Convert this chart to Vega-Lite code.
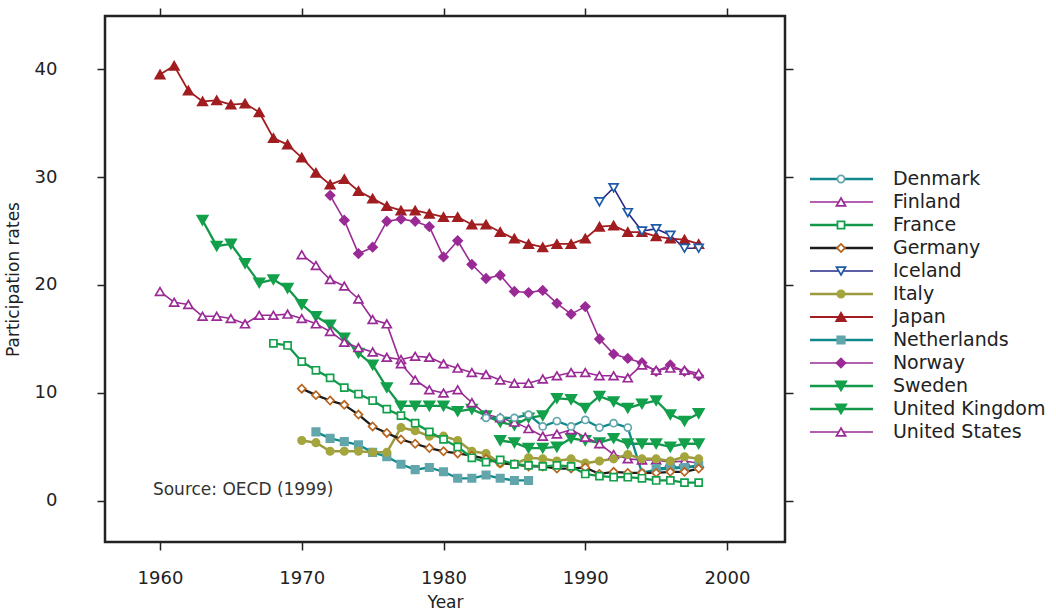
{
  "$schema": "https://vega.github.io/schema/vega-lite/v6.json",
  "background": "white",
  "padding": {"left": 2, "top": 6, "right": 0, "bottom": 0},
  "spacing": 13,
  "config": {"font": "DejaVu Sans", "axis": {"labelColor": "#222", "titleColor": "#222", "tickColor": "#222", "grid": false}},
  "datasets": {
    "rates": [
      {"country": "Japan", "year": 1960, "rate": 39.5}, {"country": "Japan", "year": 1961, "rate": 40.3}, {"country": "Japan", "year": 1962, "rate": 38.0}, {"country": "Japan", "year": 1963, "rate": 37.0}, {"country": "Japan", "year": 1964, "rate": 37.1}, {"country": "Japan", "year": 1965, "rate": 36.7}, {"country": "Japan", "year": 1966, "rate": 36.8}, {"country": "Japan", "year": 1967, "rate": 36.0}, {"country": "Japan", "year": 1968, "rate": 33.6}, {"country": "Japan", "year": 1969, "rate": 33.0}, {"country": "Japan", "year": 1970, "rate": 31.8}, {"country": "Japan", "year": 1971, "rate": 30.4}, {"country": "Japan", "year": 1972, "rate": 29.3}, {"country": "Japan", "year": 1973, "rate": 29.8}, {"country": "Japan", "year": 1974, "rate": 28.7}, {"country": "Japan", "year": 1975, "rate": 28.0}, {"country": "Japan", "year": 1976, "rate": 27.3}, {"country": "Japan", "year": 1977, "rate": 26.9}, {"country": "Japan", "year": 1978, "rate": 26.9}, {"country": "Japan", "year": 1979, "rate": 26.6}, {"country": "Japan", "year": 1980, "rate": 26.3}, {"country": "Japan", "year": 1981, "rate": 26.3}, {"country": "Japan", "year": 1982, "rate": 25.6}, {"country": "Japan", "year": 1983, "rate": 25.6}, {"country": "Japan", "year": 1984, "rate": 24.9}, {"country": "Japan", "year": 1985, "rate": 24.3}, {"country": "Japan", "year": 1986, "rate": 23.8}, {"country": "Japan", "year": 1987, "rate": 23.5}, {"country": "Japan", "year": 1988, "rate": 23.8}, {"country": "Japan", "year": 1989, "rate": 23.8}, {"country": "Japan", "year": 1990, "rate": 24.3}, {"country": "Japan", "year": 1991, "rate": 25.4}, {"country": "Japan", "year": 1992, "rate": 25.5}, {"country": "Japan", "year": 1993, "rate": 24.9}, {"country": "Japan", "year": 1994, "rate": 24.9}, {"country": "Japan", "year": 1995, "rate": 24.5}, {"country": "Japan", "year": 1996, "rate": 24.3}, {"country": "Japan", "year": 1997, "rate": 24.2}, {"country": "Japan", "year": 1998, "rate": 23.8},
      {"country": "Iceland", "year": 1991, "rate": 27.7}, {"country": "Iceland", "year": 1992, "rate": 29.0}, {"country": "Iceland", "year": 1993, "rate": 26.7}, {"country": "Iceland", "year": 1994, "rate": 25.0}, {"country": "Iceland", "year": 1995, "rate": 25.2}, {"country": "Iceland", "year": 1996, "rate": 24.6}, {"country": "Iceland", "year": 1997, "rate": 23.4}, {"country": "Iceland", "year": 1998, "rate": 23.4},
      {"country": "Norway", "year": 1972, "rate": 28.3}, {"country": "Norway", "year": 1973, "rate": 26.0}, {"country": "Norway", "year": 1974, "rate": 22.9}, {"country": "Norway", "year": 1975, "rate": 23.5}, {"country": "Norway", "year": 1976, "rate": 25.9}, {"country": "Norway", "year": 1977, "rate": 26.1}, {"country": "Norway", "year": 1978, "rate": 25.9}, {"country": "Norway", "year": 1979, "rate": 25.4}, {"country": "Norway", "year": 1980, "rate": 22.6}, {"country": "Norway", "year": 1981, "rate": 24.1}, {"country": "Norway", "year": 1982, "rate": 21.9}, {"country": "Norway", "year": 1983, "rate": 20.6}, {"country": "Norway", "year": 1984, "rate": 20.9}, {"country": "Norway", "year": 1985, "rate": 19.4}, {"country": "Norway", "year": 1986, "rate": 19.3}, {"country": "Norway", "year": 1987, "rate": 19.5}, {"country": "Norway", "year": 1988, "rate": 18.3}, {"country": "Norway", "year": 1989, "rate": 17.3}, {"country": "Norway", "year": 1990, "rate": 18.0}, {"country": "Norway", "year": 1991, "rate": 15.0}, {"country": "Norway", "year": 1992, "rate": 13.6}, {"country": "Norway", "year": 1993, "rate": 13.2}, {"country": "Norway", "year": 1994, "rate": 12.8}, {"country": "Norway", "year": 1995, "rate": 12.0}, {"country": "Norway", "year": 1996, "rate": 12.6}, {"country": "Norway", "year": 1997, "rate": 12.0}, {"country": "Norway", "year": 1998, "rate": 11.6},
      {"country": "Sweden", "year": 1963, "rate": 26.0}, {"country": "Sweden", "year": 1964, "rate": 23.6}, {"country": "Sweden", "year": 1965, "rate": 23.8}, {"country": "Sweden", "year": 1966, "rate": 22.0}, {"country": "Sweden", "year": 1967, "rate": 20.2}, {"country": "Sweden", "year": 1968, "rate": 20.5}, {"country": "Sweden", "year": 1969, "rate": 19.7}, {"country": "Sweden", "year": 1970, "rate": 18.2}, {"country": "Sweden", "year": 1971, "rate": 17.1}, {"country": "Sweden", "year": 1972, "rate": 16.3}, {"country": "Sweden", "year": 1973, "rate": 15.1}, {"country": "Sweden", "year": 1974, "rate": 13.7}, {"country": "Sweden", "year": 1975, "rate": 12.6}, {"country": "Sweden", "year": 1976, "rate": 10.5}, {"country": "Sweden", "year": 1977, "rate": 8.8}, {"country": "Sweden", "year": 1978, "rate": 8.8}, {"country": "Sweden", "year": 1979, "rate": 8.8}, {"country": "Sweden", "year": 1980, "rate": 8.8}, {"country": "Sweden", "year": 1981, "rate": 8.3}, {"country": "Sweden", "year": 1982, "rate": 8.5}, {"country": "Sweden", "year": 1983, "rate": 7.9}, {"country": "Sweden", "year": 1984, "rate": 7.3}, {"country": "Sweden", "year": 1985, "rate": 7.0}, {"country": "Sweden", "year": 1986, "rate": 7.7}, {"country": "Sweden", "year": 1987, "rate": 7.9}, {"country": "Sweden", "year": 1988, "rate": 9.5}, {"country": "Sweden", "year": 1989, "rate": 9.4}, {"country": "Sweden", "year": 1990, "rate": 8.6}, {"country": "Sweden", "year": 1991, "rate": 9.7}, {"country": "Sweden", "year": 1992, "rate": 9.2}, {"country": "Sweden", "year": 1993, "rate": 8.6}, {"country": "Sweden", "year": 1994, "rate": 9.0}, {"country": "Sweden", "year": 1995, "rate": 9.3}, {"country": "Sweden", "year": 1996, "rate": 8.0}, {"country": "Sweden", "year": 1997, "rate": 7.4}, {"country": "Sweden", "year": 1998, "rate": 8.1},
      {"country": "United Kingdom", "year": 1984, "rate": 5.6}, {"country": "United Kingdom", "year": 1985, "rate": 5.4}, {"country": "United Kingdom", "year": 1986, "rate": 4.9}, {"country": "United Kingdom", "year": 1987, "rate": 4.9}, {"country": "United Kingdom", "year": 1988, "rate": 5.0}, {"country": "United Kingdom", "year": 1989, "rate": 5.8}, {"country": "United Kingdom", "year": 1990, "rate": 5.6}, {"country": "United Kingdom", "year": 1991, "rate": 5.4}, {"country": "United Kingdom", "year": 1992, "rate": 5.8}, {"country": "United Kingdom", "year": 1993, "rate": 5.3}, {"country": "United Kingdom", "year": 1994, "rate": 5.3}, {"country": "United Kingdom", "year": 1995, "rate": 5.3}, {"country": "United Kingdom", "year": 1996, "rate": 5.0}, {"country": "United Kingdom", "year": 1997, "rate": 5.3}, {"country": "United Kingdom", "year": 1998, "rate": 5.3},
      {"country": "United States", "year": 1960, "rate": 19.4}, {"country": "United States", "year": 1961, "rate": 18.4}, {"country": "United States", "year": 1962, "rate": 18.2}, {"country": "United States", "year": 1963, "rate": 17.1}, {"country": "United States", "year": 1964, "rate": 17.1}, {"country": "United States", "year": 1965, "rate": 16.9}, {"country": "United States", "year": 1966, "rate": 16.4}, {"country": "United States", "year": 1967, "rate": 17.2}, {"country": "United States", "year": 1968, "rate": 17.2}, {"country": "United States", "year": 1969, "rate": 17.3}, {"country": "United States", "year": 1970, "rate": 16.9}, {"country": "United States", "year": 1971, "rate": 16.4}, {"country": "United States", "year": 1972, "rate": 15.7}, {"country": "United States", "year": 1973, "rate": 14.7}, {"country": "United States", "year": 1974, "rate": 14.2}, {"country": "United States", "year": 1975, "rate": 13.8}, {"country": "United States", "year": 1976, "rate": 13.3}, {"country": "United States", "year": 1977, "rate": 13.1}, {"country": "United States", "year": 1978, "rate": 13.4}, {"country": "United States", "year": 1979, "rate": 13.3}, {"country": "United States", "year": 1980, "rate": 12.7}, {"country": "United States", "year": 1981, "rate": 12.3}, {"country": "United States", "year": 1982, "rate": 11.9}, {"country": "United States", "year": 1983, "rate": 11.7}, {"country": "United States", "year": 1984, "rate": 11.2}, {"country": "United States", "year": 1985, "rate": 10.9}, {"country": "United States", "year": 1986, "rate": 10.9}, {"country": "United States", "year": 1987, "rate": 11.3}, {"country": "United States", "year": 1988, "rate": 11.6}, {"country": "United States", "year": 1989, "rate": 11.9}, {"country": "United States", "year": 1990, "rate": 11.9}, {"country": "United States", "year": 1991, "rate": 11.6}, {"country": "United States", "year": 1992, "rate": 11.6}, {"country": "United States", "year": 1993, "rate": 11.4}, {"country": "United States", "year": 1994, "rate": 12.6}, {"country": "United States", "year": 1995, "rate": 12.1}, {"country": "United States", "year": 1996, "rate": 12.3}, {"country": "United States", "year": 1997, "rate": 12.1}, {"country": "United States", "year": 1998, "rate": 11.8},
      {"country": "Finland", "year": 1970, "rate": 22.8}, {"country": "Finland", "year": 1971, "rate": 21.8}, {"country": "Finland", "year": 1972, "rate": 20.5}, {"country": "Finland", "year": 1973, "rate": 19.9}, {"country": "Finland", "year": 1974, "rate": 18.7}, {"country": "Finland", "year": 1975, "rate": 16.8}, {"country": "Finland", "year": 1976, "rate": 16.4}, {"country": "Finland", "year": 1977, "rate": 12.7}, {"country": "Finland", "year": 1978, "rate": 11.2}, {"country": "Finland", "year": 1979, "rate": 10.3}, {"country": "Finland", "year": 1980, "rate": 10.0}, {"country": "Finland", "year": 1981, "rate": 10.3}, {"country": "Finland", "year": 1982, "rate": 9.1}, {"country": "Finland", "year": 1983, "rate": 8.0}, {"country": "Finland", "year": 1984, "rate": 7.7}, {"country": "Finland", "year": 1985, "rate": 7.3}, {"country": "Finland", "year": 1986, "rate": 6.7}, {"country": "Finland", "year": 1987, "rate": 6.0}, {"country": "Finland", "year": 1988, "rate": 6.2}, {"country": "Finland", "year": 1989, "rate": 6.6}, {"country": "Finland", "year": 1990, "rate": 5.9}, {"country": "Finland", "year": 1991, "rate": 5.3}, {"country": "Finland", "year": 1992, "rate": 4.3}, {"country": "Finland", "year": 1993, "rate": 3.9}, {"country": "Finland", "year": 1994, "rate": 3.8}, {"country": "Finland", "year": 1995, "rate": 3.8}, {"country": "Finland", "year": 1996, "rate": 3.6}, {"country": "Finland", "year": 1997, "rate": 3.7}, {"country": "Finland", "year": 1998, "rate": 3.5},
      {"country": "Denmark", "year": 1983, "rate": 7.7}, {"country": "Denmark", "year": 1984, "rate": 7.7}, {"country": "Denmark", "year": 1985, "rate": 7.7}, {"country": "Denmark", "year": 1986, "rate": 8.0}, {"country": "Denmark", "year": 1987, "rate": 6.9}, {"country": "Denmark", "year": 1988, "rate": 7.4}, {"country": "Denmark", "year": 1989, "rate": 6.9}, {"country": "Denmark", "year": 1990, "rate": 7.5}, {"country": "Denmark", "year": 1991, "rate": 6.8}, {"country": "Denmark", "year": 1992, "rate": 7.2}, {"country": "Denmark", "year": 1993, "rate": 6.8}, {"country": "Denmark", "year": 1994, "rate": 2.6}, {"country": "Denmark", "year": 1995, "rate": 2.9}, {"country": "Denmark", "year": 1996, "rate": 3.0}, {"country": "Denmark", "year": 1997, "rate": 3.1}, {"country": "Denmark", "year": 1998, "rate": 3.2},
      {"country": "Netherlands", "year": 1971, "rate": 6.4}, {"country": "Netherlands", "year": 1972, "rate": 5.8}, {"country": "Netherlands", "year": 1973, "rate": 5.5}, {"country": "Netherlands", "year": 1974, "rate": 5.2}, {"country": "Netherlands", "year": 1975, "rate": 4.5}, {"country": "Netherlands", "year": 1976, "rate": 4.1}, {"country": "Netherlands", "year": 1977, "rate": 3.4}, {"country": "Netherlands", "year": 1978, "rate": 2.9}, {"country": "Netherlands", "year": 1979, "rate": 3.1}, {"country": "Netherlands", "year": 1980, "rate": 2.7}, {"country": "Netherlands", "year": 1981, "rate": 2.1}, {"country": "Netherlands", "year": 1982, "rate": 2.1}, {"country": "Netherlands", "year": 1983, "rate": 2.4}, {"country": "Netherlands", "year": 1984, "rate": 2.1}, {"country": "Netherlands", "year": 1985, "rate": 1.9}, {"country": "Netherlands", "year": 1986, "rate": 1.9}, {"country": "Netherlands", "year": 1990, "rate": null}, {"country": "Netherlands", "year": 1995, "rate": 3.0}, {"country": "Netherlands", "year": 1996, "rate": 3.1}, {"country": "Netherlands", "year": 1997, "rate": 3.1}, {"country": "Netherlands", "year": 1998, "rate": 3.3},
      {"country": "Italy", "year": 1970, "rate": 5.6}, {"country": "Italy", "year": 1971, "rate": 5.4}, {"country": "Italy", "year": 1972, "rate": 4.6}, {"country": "Italy", "year": 1973, "rate": 4.6}, {"country": "Italy", "year": 1974, "rate": 4.6}, {"country": "Italy", "year": 1975, "rate": 4.5}, {"country": "Italy", "year": 1976, "rate": 4.5}, {"country": "Italy", "year": 1977, "rate": 6.8}, {"country": "Italy", "year": 1978, "rate": 6.5}, {"country": "Italy", "year": 1979, "rate": 6.0}, {"country": "Italy", "year": 1980, "rate": 6.0}, {"country": "Italy", "year": 1981, "rate": 5.6}, {"country": "Italy", "year": 1982, "rate": 4.6}, {"country": "Italy", "year": 1983, "rate": 4.4}, {"country": "Italy", "year": 1984, "rate": 3.5}, {"country": "Italy", "year": 1985, "rate": 3.4}, {"country": "Italy", "year": 1986, "rate": 4.0}, {"country": "Italy", "year": 1987, "rate": 3.9}, {"country": "Italy", "year": 1988, "rate": 3.7}, {"country": "Italy", "year": 1989, "rate": 3.9}, {"country": "Italy", "year": 1990, "rate": 3.5}, {"country": "Italy", "year": 1991, "rate": 3.7}, {"country": "Italy", "year": 1992, "rate": 3.9}, {"country": "Italy", "year": 1993, "rate": 4.3}, {"country": "Italy", "year": 1994, "rate": 3.9}, {"country": "Italy", "year": 1995, "rate": 3.9}, {"country": "Italy", "year": 1996, "rate": 3.7}, {"country": "Italy", "year": 1997, "rate": 4.1}, {"country": "Italy", "year": 1998, "rate": 3.9},
      {"country": "Germany", "year": 1970, "rate": 10.4}, {"country": "Germany", "year": 1971, "rate": 9.8}, {"country": "Germany", "year": 1972, "rate": 9.3}, {"country": "Germany", "year": 1973, "rate": 8.9}, {"country": "Germany", "year": 1974, "rate": 8.0}, {"country": "Germany", "year": 1975, "rate": 6.9}, {"country": "Germany", "year": 1976, "rate": 6.3}, {"country": "Germany", "year": 1977, "rate": 5.7}, {"country": "Germany", "year": 1978, "rate": 5.3}, {"country": "Germany", "year": 1979, "rate": 4.9}, {"country": "Germany", "year": 1980, "rate": 4.6}, {"country": "Germany", "year": 1981, "rate": 4.4}, {"country": "Germany", "year": 1982, "rate": 4.2}, {"country": "Germany", "year": 1983, "rate": 3.9}, {"country": "Germany", "year": 1984, "rate": 3.5}, {"country": "Germany", "year": 1985, "rate": 3.4}, {"country": "Germany", "year": 1986, "rate": 3.2}, {"country": "Germany", "year": 1987, "rate": 3.2}, {"country": "Germany", "year": 1988, "rate": 3.0}, {"country": "Germany", "year": 1989, "rate": 3.0}, {"country": "Germany", "year": 1990, "rate": 3.1}, {"country": "Germany", "year": 1991, "rate": 2.5}, {"country": "Germany", "year": 1992, "rate": 2.7}, {"country": "Germany", "year": 1993, "rate": 2.6}, {"country": "Germany", "year": 1994, "rate": 2.6}, {"country": "Germany", "year": 1995, "rate": 2.6}, {"country": "Germany", "year": 1996, "rate": 2.7}, {"country": "Germany", "year": 1997, "rate": 2.7}, {"country": "Germany", "year": 1998, "rate": 3.0},
      {"country": "France", "year": 1968, "rate": 14.6}, {"country": "France", "year": 1969, "rate": 14.4}, {"country": "France", "year": 1970, "rate": 12.9}, {"country": "France", "year": 1971, "rate": 12.1}, {"country": "France", "year": 1972, "rate": 11.4}, {"country": "France", "year": 1973, "rate": 10.5}, {"country": "France", "year": 1974, "rate": 9.9}, {"country": "France", "year": 1975, "rate": 9.3}, {"country": "France", "year": 1976, "rate": 8.5}, {"country": "France", "year": 1977, "rate": 7.9}, {"country": "France", "year": 1978, "rate": 7.2}, {"country": "France", "year": 1979, "rate": 6.4}, {"country": "France", "year": 1980, "rate": 5.7}, {"country": "France", "year": 1981, "rate": 5.0}, {"country": "France", "year": 1982, "rate": 4.0}, {"country": "France", "year": 1983, "rate": 3.6}, {"country": "France", "year": 1984, "rate": 3.8}, {"country": "France", "year": 1985, "rate": 3.4}, {"country": "France", "year": 1986, "rate": 3.3}, {"country": "France", "year": 1987, "rate": 3.2}, {"country": "France", "year": 1988, "rate": 3.3}, {"country": "France", "year": 1989, "rate": 3.2}, {"country": "France", "year": 1990, "rate": 2.5}, {"country": "France", "year": 1991, "rate": 2.3}, {"country": "France", "year": 1992, "rate": 2.2}, {"country": "France", "year": 1993, "rate": 2.2}, {"country": "France", "year": 1994, "rate": 2.1}, {"country": "France", "year": 1995, "rate": 1.9}, {"country": "France", "year": 1996, "rate": 1.9}, {"country": "France", "year": 1997, "rate": 1.7}, {"country": "France", "year": 1998, "rate": 1.7}
    ],
    "countries": [
      {"country": "Denmark"}, {"country": "Finland"}, {"country": "France"}, {"country": "Germany"}, {"country": "Iceland"}, {"country": "Italy"}, {"country": "Japan"}, {"country": "Netherlands"}, {"country": "Norway"}, {"country": "Sweden"}, {"country": "United Kingdom"}, {"country": "United States"}
    ],
    "note": [{"label": "Source: OECD (1999)", "year": 1959.5, "rate": 1.0}]
  },
  "hconcat": [
    {
      "width": 680,
      "height": 526,
      "view": {"stroke": "#222", "strokeWidth": 2.5},
      "layer": [
        {
          "data": {"name": "rates"},
          "mark": {"type": "line", "strokeJoin": "round"},
          "encoding": {
            "x": {"field": "year", "type": "quantitative", "scale": {"domain": [1956.12, 2004.09], "nice": false, "zero": false},
                  "axis": {"orient": "bottom", "values": [1960, 1970, 1980, 1990, 2000], "format": "d", "title": "Year", "domain": false, "tickSize": 8, "tickWidth": 1.5, "labelFontSize": 18, "labelPadding": 19, "titleFontSize": 17, "titleFontWeight": "normal", "titlePadding": 7, "labelFlush": false}},
            "y": {"field": "rate", "type": "quantitative", "scale": {"domain": [-3.8, 44.91], "nice": false, "zero": false},
                  "axis": {"orient": "left", "values": [0, 10, 20, 30, 40], "title": "Participation rates", "domain": false, "tickSize": 8, "tickWidth": 1.5, "labelFontSize": 18, "labelPadding": 40, "titleFontSize": 17, "titleFontWeight": "normal", "titlePadding": 12, "labelFlush": false}},
            "detail": {"field": "country", "type": "nominal"},
            "stroke": {"field": "country", "type": "nominal", "legend": null,
                       "scale": {"domain": ["Denmark", "Finland", "France", "Germany", "Iceland", "Italy", "Japan", "Netherlands", "Norway", "Sweden", "United Kingdom", "United States"],
                                 "range": ["#10898b", "#9a2a95", "#13984a", "#1c1c1c", "#29288a", "#9b9a3e", "#a11d20", "#10898b", "#9a2a95", "#13984a", "#13984a", "#9a2a95"]}},
            "strokeWidth": {"field": "country", "type": "nominal", "legend": null,
                       "scale": {"type": "ordinal", "domain": ["Denmark", "Finland", "France", "Germany", "Iceland", "Italy", "Japan", "Netherlands", "Norway", "Sweden", "United Kingdom", "United States"],
                                 "range": [2.3, 1.6, 2.3, 2.3, 1.6, 2.5, 1.8, 2.3, 1.6, 2.3, 2.3, 1.6]}}
          }
        },
        {
          "data": {"name": "rates"},
          "mark": {"type": "point", "opacity": 1, "strokeWidth": 1.7},
          "encoding": {
            "x": {"field": "year", "type": "quantitative",
                  "axis": {"orient": "top", "values": [1960, 1970, 1980, 1990, 2000], "labels": false, "title": null, "domain": false, "tickSize": 8, "tickWidth": 1.5}},
            "y": {"field": "rate", "type": "quantitative",
                  "axis": {"orient": "right", "values": [0, 10, 20, 30, 40], "labels": false, "title": null, "domain": false, "tickSize": 8, "tickWidth": 1.5}},
            "shape": {"field": "country", "type": "nominal", "legend": null,
                      "scale": {"domain": ["Denmark", "Finland", "France", "Germany", "Iceland", "Italy", "Japan", "Netherlands", "Norway", "Sweden", "United Kingdom", "United States"],
                                "range": ["circle", "triangle-up", "square", "diamond", "triangle-down", "circle", "triangle-up", "square", "diamond", "triangle-down", "triangle-down", "triangle-up"]}},
            "stroke": {"field": "country", "type": "nominal", "legend": null,
                       "scale": {"domain": ["Denmark", "Finland", "France", "Germany", "Iceland", "Italy", "Japan", "Netherlands", "Norway", "Sweden", "United Kingdom", "United States"],
                                 "range": ["#62a6ac", "#9a2a95", "#13a04b", "#b6651f", "#1d5ba9", "#a4a63d", "#a11d20", "#62a6ac", "#9a2a95", "#13a04b", "#13a04b", "#9a2a95"]}},
            "fill": {"field": "country", "type": "nominal", "legend": null,
                     "scale": {"domain": ["Denmark", "Finland", "France", "Germany", "Iceland", "Italy", "Japan", "Netherlands", "Norway", "Sweden", "United Kingdom", "United States"],
                               "range": ["#ffffff", "#ffffff", "#ffffff", "#ffffff", "#ffffff", "#a4a63d", "#a11d20", "#62a6ac", "#9a2a95", "#13a04b", "#13a04b", "#ffffff"]}},
            "size": {"field": "country", "type": "nominal", "legend": null,
                     "scale": {"type": "ordinal", "domain": ["Denmark", "Finland", "France", "Germany", "Iceland", "Italy", "Japan", "Netherlands", "Norway", "Sweden", "United Kingdom", "United States"],
                               "range": [50, 80, 50, 65, 80, 55, 90, 55, 80, 110, 110, 80]}}
          }
        },
        {
          "data": {"name": "note"},
          "mark": {"type": "text", "align": "left", "baseline": "middle", "fontSize": 17, "color": "#333"},
          "encoding": {
            "x": {"field": "year", "type": "quantitative", "axis": null},
            "y": {"field": "rate", "type": "quantitative", "axis": null},
            "text": {"field": "label", "type": "nominal"}
          }
        }
      ],
      "resolve": {"scale": {"stroke": "independent"}, "axis": {"x": "independent", "y": "independent"}}
    },
    {
      "width": 246,
      "height": 526,
      "view": {"stroke": null},
      "data": {"name": "countries"},
      "encoding": {
        "y": {"field": "country", "type": "nominal", "axis": null,
              "scale": {"type": "band", "domain": ["Denmark", "Finland", "France", "Germany", "Iceland", "Italy", "Japan", "Netherlands", "Norway", "Sweden", "United Kingdom", "United States"], "paddingInner": 0, "paddingOuter": 0, "range": [151.5, 427.5]}}
      },
      "layer": [
        {
          "mark": {"type": "rule"},
          "encoding": {
            "x": {"datum": 0, "type": "quantitative", "scale": {"domain": [0, 1], "nice": false, "zero": false}, "axis": null},
            "x2": {"datum": 0.256},
            "stroke": {"field": "country", "type": "nominal", "legend": null,
                       "scale": {"domain": ["Denmark", "Finland", "France", "Germany", "Iceland", "Italy", "Japan", "Netherlands", "Norway", "Sweden", "United Kingdom", "United States"],
                                 "range": ["#10898b", "#9a2a95", "#13984a", "#1c1c1c", "#29288a", "#9b9a3e", "#a11d20", "#10898b", "#9a2a95", "#13984a", "#13984a", "#9a2a95"]}},
            "strokeWidth": {"field": "country", "type": "nominal", "legend": null,
                       "scale": {"type": "ordinal", "domain": ["Denmark", "Finland", "France", "Germany", "Iceland", "Italy", "Japan", "Netherlands", "Norway", "Sweden", "United Kingdom", "United States"],
                                 "range": [4, 2, 4, 4, 2, 4, 2, 4, 2, 4, 4, 2]}}
          }
        },
        {
          "mark": {"type": "point", "opacity": 1, "strokeWidth": 1.8},
          "encoding": {
            "x": {"datum": 0.126, "type": "quantitative"},
            "shape": {"field": "country", "type": "nominal", "legend": null,
                      "scale": {"domain": ["Denmark", "Finland", "France", "Germany", "Iceland", "Italy", "Japan", "Netherlands", "Norway", "Sweden", "United Kingdom", "United States"],
                                "range": ["circle", "triangle-up", "square", "diamond", "triangle-down", "circle", "triangle-up", "square", "diamond", "triangle-down", "triangle-down", "triangle-up"]}},
            "stroke": {"field": "country", "type": "nominal", "legend": null,
                       "scale": {"domain": ["Denmark", "Finland", "France", "Germany", "Iceland", "Italy", "Japan", "Netherlands", "Norway", "Sweden", "United Kingdom", "United States"],
                                 "range": ["#62a6ac", "#9a2a95", "#13a04b", "#b6651f", "#1d5ba9", "#a4a63d", "#a11d20", "#62a6ac", "#9a2a95", "#13a04b", "#13a04b", "#9a2a95"]}},
            "fill": {"field": "country", "type": "nominal", "legend": null,
                     "scale": {"domain": ["Denmark", "Finland", "France", "Germany", "Iceland", "Italy", "Japan", "Netherlands", "Norway", "Sweden", "United Kingdom", "United States"],
                               "range": ["#ffffff", "#ffffff", "#ffffff", "#ffffff", "#ffffff", "#a4a63d", "#a11d20", "#62a6ac", "#9a2a95", "#13a04b", "#13a04b", "#ffffff"]}},
            "size": {"field": "country", "type": "nominal", "legend": null,
                     "scale": {"type": "ordinal", "domain": ["Denmark", "Finland", "France", "Germany", "Iceland", "Italy", "Japan", "Netherlands", "Norway", "Sweden", "United Kingdom", "United States"],
                               "range": [60, 85, 60, 70, 85, 65, 95, 65, 85, 115, 115, 85]}}
          }
        },
        {
          "mark": {"type": "text", "align": "left", "baseline": "middle", "fontSize": 19, "color": "#222"},
          "encoding": {
            "x": {"datum": 0.337, "type": "quantitative"},
            "text": {"field": "country", "type": "nominal"}
          }
        }
      ],
      "resolve": {"scale": {"stroke": "independent"}}
    }
  ]
}
